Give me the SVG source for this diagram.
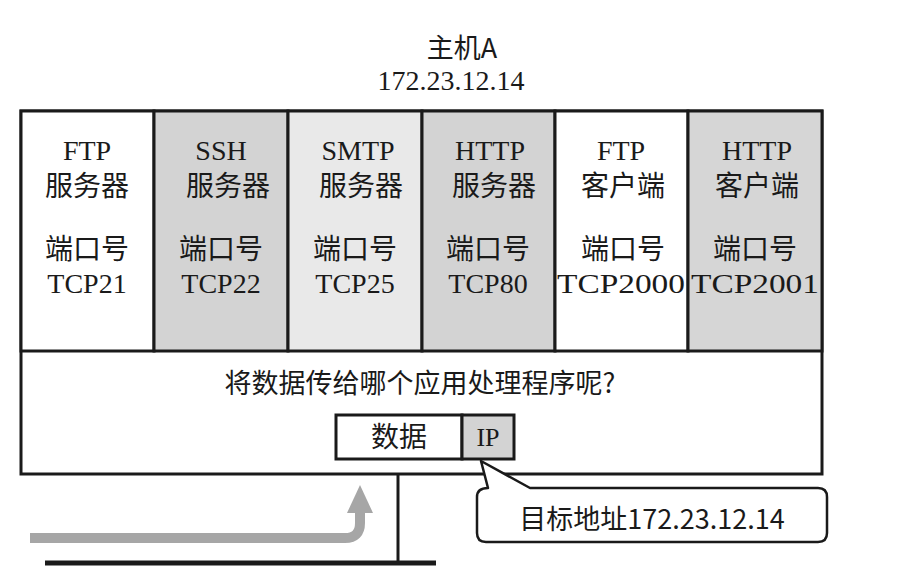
<svg xmlns="http://www.w3.org/2000/svg" width="915" height="575" viewBox="0 0 915 575">
<style>
.t{font-family:"Liberation Serif","Noto Sans CJK SC",serif;font-size:28px;fill:#1a1a1a;text-anchor:middle}
.c{font-family:"Noto Sans CJK SC","Liberation Serif",serif;font-size:28px;fill:#1a1a1a;text-anchor:middle}
.box{stroke:#1a1a1a;stroke-width:3}
</style>
<rect width="915" height="575" fill="#fff"/>
<g id="title">
<text class="c" x="462" y="58" style="font-size:27px">主机A</text>
<text class="t" x="451" y="90" style="font-size:28px">172.23.12.14</text>
</g>
<g id="host">
<rect class="box" x="21" y="111" width="801" height="363" fill="#fff"/>
<text class="c" x="420" y="393" style="font-size:27px">将数据传给哪个应用处理程序呢?</text>
</g>
<g id="ftp-server">
<rect class="box" x="21" y="111" width="133" height="240" fill="#fff"/>
<text class="t" x="87" y="160">FTP</text>
<text class="c" x="87" y="196">服务器</text>
<text class="c" x="87" y="259">端口号</text>
<text class="t" x="87" y="293">TCP21</text>
</g>
<g id="ssh-server">
<rect class="box" x="154" y="111" width="134" height="240" fill="#d3d3d3"/>
<text class="t" x="221" y="160">SSH</text>
<text class="c" x="228" y="196">服务器</text>
<text class="c" x="221" y="259">端口号</text>
<text class="t" x="221" y="293">TCP22</text>
</g>
<g id="smtp-server">
<rect class="box" x="288" y="111" width="134" height="240" fill="#e9e9e9"/>
<text class="t" x="358" y="160">SMTP</text>
<text class="c" x="361" y="196">服务器</text>
<text class="c" x="355" y="259">端口号</text>
<text class="t" x="355" y="293">TCP25</text>
</g>
<g id="http-server">
<rect class="box" x="422" y="111" width="133" height="240" fill="#d3d3d3"/>
<text class="t" x="490" y="160">HTTP</text>
<text class="c" x="494" y="196">服务器</text>
<text class="c" x="488" y="259">端口号</text>
<text class="t" x="488" y="293">TCP80</text>
</g>
<g id="ftp-client">
<rect class="box" x="555" y="111" width="133" height="240" fill="#fff"/>
<text class="t" x="621" y="160">FTP</text>
<text class="c" x="623" y="196">客户端</text>
<text class="c" x="623" y="259">端口号</text>
<text class="t" x="621" y="293" textLength="128" lengthAdjust="spacingAndGlyphs">TCP2000</text>
</g>
<g id="http-client">
<rect class="box" x="688" y="111" width="134" height="240" fill="#d6d6d6"/>
<text class="t" x="757" y="160">HTTP</text>
<text class="c" x="757" y="196">客户端</text>
<text class="c" x="755" y="259">端口号</text>
<text class="t" x="755" y="293" textLength="128" lengthAdjust="spacingAndGlyphs">TCP2001</text>
</g>
<g id="packet">
<rect class="box" x="336" y="415" width="126" height="44" fill="#fff" stroke-width="2.5"/>
<text class="c" x="399" y="447">数据</text>
<rect class="box" x="462" y="415" width="52" height="44" fill="#d3d3d3" stroke-width="2.5"/>
<text class="t" x="488" y="446" style="font-size:26px">IP</text>
</g>
<g id="connectors">
<line x1="398" y1="474" x2="398" y2="563" stroke="#1a1a1a" stroke-width="3"/>
<line x1="45" y1="563" x2="436" y2="563" stroke="#1a1a1a" stroke-width="5"/>
<path d="M30,538 L345,538 Q360,538 360,523 L360,512" fill="none" stroke="#a6a6a6" stroke-width="10"/>
<polygon points="347,513 373,513 360,485" fill="#a6a6a6"/>
</g>
<g id="callout">
<path d="M488,488 L481,461 L530,488 L818,488 Q827,488 827,497 L827,533 Q827,542 818,542 L486,542 Q477,542 477,533 L477,497 Q477,488 488,488 Z" fill="#fff" stroke="#1a1a1a" stroke-width="2.5" stroke-linejoin="round"/>
<text class="c" x="652" y="529" style="font-size:27px">目标地址172.23.12.14</text>
</g>
</svg>
